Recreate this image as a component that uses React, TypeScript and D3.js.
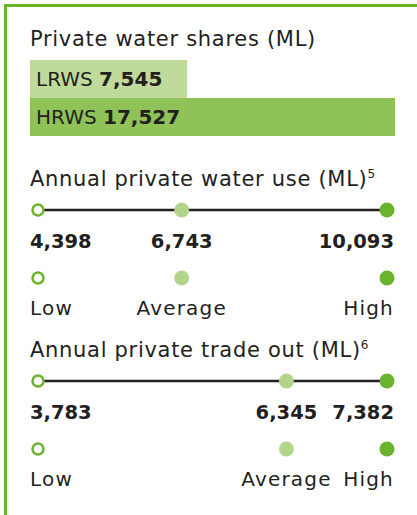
import React from "react";
import * as d3 from "d3";

const shareCategories = ["LRWS", "HRWS"];
const shareValues = [7545, 17527];
const levelLabels = ["Low", "Average", "High"];
const useValues = [4398, 6743, 10093];
const tradeValues = [3783, 6345, 7382];

const GREEN = "#6ab42d";
const LIGHT = "#b3d48b";
const TEXT = "#231f20";
const FONT = "'DejaVu Sans', sans-serif";
const barColors = ["#c0da9c", "#8fc257"];

const fmt = d3.format(",");

function RangeSection({ title, sup, values, y0 }: { title: string; sup: string; values: number[]; y0: number }) {
  const x = d3.scaleLinear().domain([d3.min(values)!, d3.max(values)!]).range([38, 387]);
  const lineY = y0 + 24;
  const numY = y0 + 62;
  const dotY = y0 + 92;
  const labY = y0 + 129;
  const anchors = ["start", "middle", "end"];
  const textX = (i: number) => (i === 0 ? 30 : i === values.length - 1 ? 394 : x(values[i]));
  const dot = (i: number, cy: number) =>
    i === 0 ? (
      <circle cx={x(values[i])} cy={cy} r={5.5} fill="#fff" stroke={GREEN} strokeWidth={2.5} />
    ) : (
      <circle cx={x(values[i])} cy={cy} r={7.5} fill={i === 1 ? LIGHT : GREEN} />
    );
  return (
    <g>
      <text x={30} y={y0} fontSize={21} letterSpacing={0.7} fill={TEXT} fontFamily={FONT}>
        {title}
        <tspan fontSize={12} dy={-8} letterSpacing={0}>{sup}</tspan>
      </text>
      <line x1={x(values[0])} x2={x(values[values.length - 1])} y1={lineY} y2={lineY} stroke={TEXT} strokeWidth={2.5} />
      {values.map((v, i) => (
        <g key={i}>
          {dot(i, lineY)}
          <text x={textX(i)} y={numY} textAnchor={anchors[i] as any} fontSize={19.5} fontWeight={700} fill={TEXT} fontFamily={FONT}>
            {fmt(v)}
          </text>
          {dot(i, dotY)}
          <text x={textX(i)} y={labY} textAnchor={anchors[i] as any} fontSize={20} letterSpacing={1.2} fill={TEXT} fontFamily={FONT}>
            {levelLabels[i]}
          </text>
        </g>
      ))}
    </g>
  );
}

export default function App() {
  const xs = d3.scaleLinear().domain([0, d3.max(shareValues)!]).range([30, 395]);
  const ys = d3.scaleBand().domain(shareCategories).range([60, 136]).padding(0);
  return (
    <svg width={417} height={515} style={{ position: "absolute", left: 0, top: 0, background: "#fff" }}>
      <rect x={5.5} y={5.5} width={430} height={530} fill="none" stroke={GREEN} strokeWidth={3} />
      <text x={30} y={45.5} fontSize={21} letterSpacing={0.7} fill={TEXT} fontFamily={FONT}>
        Private water shares (ML)
      </text>
      {shareCategories.map((c, i) => (
        <g key={c}>
          <rect x={xs(0)} y={ys(c)!} width={xs(shareValues[i]) - xs(0)} height={ys.bandwidth()} fill={barColors[i]} />
          <text x={36} y={ys(c)! + 26} fontSize={20} fill={TEXT} fontFamily={FONT}>
            {c} <tspan fontWeight={700}>{fmt(shareValues[i])}</tspan>
          </text>
        </g>
      ))}
      <RangeSection title="Annual private water use (ML)" sup="5" values={useValues} y0={186} />
      <RangeSection title="Annual private trade out (ML)" sup="6" values={tradeValues} y0={357} />
    </svg>
  );
}
